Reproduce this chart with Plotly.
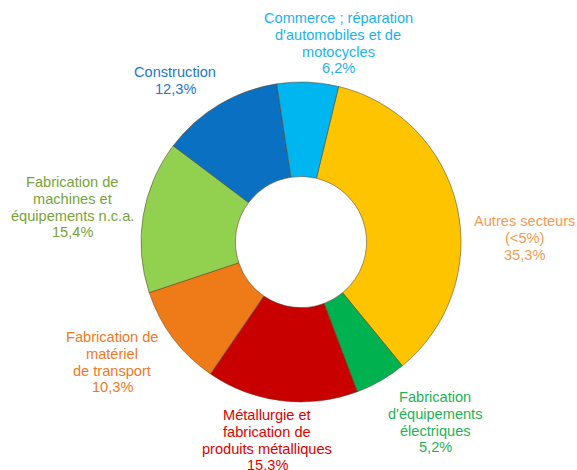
import plotly.graph_objects as go

# ---- data ----
sectors = [
    "Autres secteurs<br>(<5%)",
    "Fabrication<br>d'équipements<br>électriques",
    "Métallurgie et<br>fabrication de<br>produits métalliques",
    "Fabrication de<br>matériel<br>de transport",
    "Fabrication de<br>machines et<br>équipements n.c.a.",
    "Construction",
    "Commerce ; réparation<br>d'automobiles et de<br>motocycles",
]
shares = [35.3, 5.2, 15.3, 10.3, 15.4, 12.3, 6.2]

slice_colors = ["#FFC400", "#00B24F", "#C80000", "#EE7A18", "#92D050", "#0A70C2", "#00B6F0"]
label_colors = ["#F79A4E", "#1DB354", "#E00000", "#EE7A1E", "#77A33A", "#1C78CC", "#1CB2EA"]

# label anchor (pixel centre x, first-line centre y)
label_pos = [(524, 221), (435, 397), (267, 415), (112, 337), (72, 182), (175, 72), (338, 18)]

W, H = 577, 470
LINE = 16.8
R = 160

fig = go.Figure()
fig.add_trace(go.Pie(
    labels=[s.replace("<br>", " ") for s in sectors],
    values=shares,
    hole=0.41,
    sort=False,
    direction="clockwise",
    rotation=13.6,
    marker=dict(colors=slice_colors, line=dict(color="rgba(90,70,40,0.55)", width=1)),
    textinfo="none",
    hoverinfo="label+percent",
    showlegend=False,
    domain=dict(x=[(301 - R) / W, (301 + R) / W],
                y=[(H - 242 - R) / H, (H - 242 + R) / H]),
))

annotations = []
for name, val, col, (cx, cy) in zip(sectors, shares, label_colors, label_pos):
    lines = name.split("<br>") + [f"{val:.1f}%".replace(".", ",")]
    for i, ln in enumerate(lines):
        y = cy + i * LINE
        annotations.append(dict(
            x=cx / W, y=1 - y / H, xref="paper", yref="paper",
            text=ln, showarrow=False, xanchor="center", yanchor="middle",
            font=dict(family="Liberation Sans, Arial, sans-serif", size=14.6, color=col),
        ))

fig.update_layout(
    width=W, height=H,
    margin=dict(l=0, r=0, t=0, b=0),
    paper_bgcolor="white", plot_bgcolor="white",
    annotations=annotations,
)

fig.write_html(
    "out.html",
    config={"displayModeBar": False},
    post_script="document.body.style.margin='0';document.body.style.overflow='hidden';",
)
